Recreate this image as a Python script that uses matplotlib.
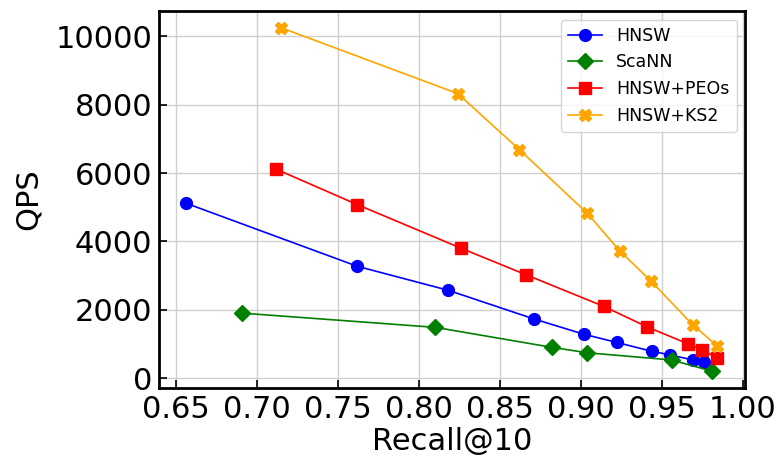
import matplotlib
matplotlib.use('Agg')
import matplotlib.pyplot as plt

# recall / QPS for each method
hnsw_recall = [0.656, 0.762, 0.818, 0.871, 0.902, 0.922, 0.944, 0.955, 0.969, 0.976]
hnsw_qps = [5120, 3270, 2570, 1730, 1280, 1045, 780, 680, 530, 460]

scann_recall = [0.691, 0.810, 0.882, 0.904, 0.956, 0.981]
scann_qps = [1900, 1485, 900, 740, 530, 200]

peos_recall = [0.712, 0.762, 0.826, 0.866, 0.914, 0.941, 0.966, 0.975, 0.984]
peos_qps = [6110, 5075, 3800, 3025, 2100, 1495, 1005, 820, 600]

ks2_recall = [0.715, 0.824, 0.862, 0.904, 0.924, 0.943, 0.969, 0.984]
ks2_qps = [10250, 8325, 6685, 4820, 3720, 2850, 1560, 945]

xticks = [0.65, 0.70, 0.75, 0.80, 0.85, 0.90, 0.95, 1.00]
yticks = [0, 2000, 4000, 6000, 8000, 10000]

fig = plt.figure(figsize=(7.82, 4.62), dpi=100)
ax = fig.add_axes([0.2037, 0.160, 0.7494, 0.816])

ax.plot(hnsw_recall, hnsw_qps, color='blue', marker='o', markersize=8.5, linewidth=1.2, label='HNSW')
ax.plot(scann_recall, scann_qps, color='green', marker='D', markersize=8, linewidth=1.2, label='ScaNN')
ax.plot(peos_recall, peos_qps, color='red', marker='s', markersize=8.5, linewidth=1.2, label='HNSW+PEOs')
ax.plot(ks2_recall, ks2_qps, color='orange', marker='X', markersize=9, linewidth=1.2, label='HNSW+KS2')

ax.set_xlim(0.6397, 1.0015)
ax.set_ylim(-293, 10740)
ax.set_xticks(xticks)
ax.set_xticklabels(['%.2f' % v for v in xticks])
ax.set_yticks(yticks)
ax.tick_params(direction='in', labelsize=22, length=6, width=1.2, pad=5)
ax.grid(True, color='#d0d0d0', linewidth=1)
ax.set_axisbelow(True)
for s in ax.spines.values():
    s.set_linewidth(2)

ax.set_xlabel('Recall@10', fontsize=22, labelpad=2)
ax.set_ylabel('QPS', fontsize=22, labelpad=9)
ax.legend(loc='upper right', fontsize=12.5, borderaxespad=0.5)

fig.savefig('out.png', dpi=100)
